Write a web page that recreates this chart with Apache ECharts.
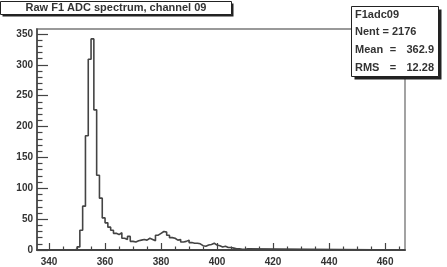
<!DOCTYPE html>
<html>
<head>
<meta charset="utf-8">
<script src="https://cdn.jsdelivr.net/npm/echarts@6/dist/echarts.min.js"></script>
<style>
html,body{margin:0;padding:0;background:#fff;}
#c{width:447px;height:267px;}
</style>
</head>
<body>
<div id="c"></div>
<script>
// ---- data ----
var titleText = 'Raw F1 ADC spectrum, channel 09';
var statsName = 'F1adc09';
var statsNent = 2176;
var statsMean = '362.9';
var statsRMS = '12.28';

var binStart = 349;   // left edge of first listed bin
var binWidth = 1;
var counts = [1,5,32,71,185,309,342,227,121,84,52,
  44,37,32,27,25,28,19,17,22,14,
  13,15,16,17,16,19,17,15,24,27,
  30,29,24,20,19,16,17,13,14,16,
  12,11,11,10,7,6,8,9,11,8,
  7,5,6,4,4,3,2,2,1,1,2];

var xMajorTicks = [340,360,380,400,420,440,460];
var xMinorTicks = [345,350,355,365,370,375,385,390,395,405,410,415,425,430,435,445,450,455,465];
var yMajorTicks = [0,50,100,150,200,250,300,350];
var yMinorTicks = [10,20,30,40,60,70,80,90,110,120,130,140,160,170,180,190,210,220,230,240,260,270,280,290,310,320,330,340];

// ---- axis ranges ----
var xMin = 335.7, xMax = 467.1, yMin = 0, yMax = 358;

// build step outline of histogram (zero outside the filled bins)
var pts = [[xMin, 0]];
for (var i = 0; i < counts.length; i++) {
  pts.push([binStart + i * binWidth, counts[i]]);
}
pts.push([binStart + counts.length * binWidth, 0]);
pts.push([xMax, 0]);

var FONT = '"Liberation Sans", Arial, Helvetica, sans-serif';
var chart = echarts.init(document.getElementById('c'), null, {renderer: 'canvas'});

function xAx(ticks, len, labels) {
  return {
    type: 'value', min: xMin, max: xMax, position: 'bottom', gridIndex: 0,
    axisLine: {show: labels, lineStyle: {color: '#444', width: 1.8}},
    axisTick: {show: true, inside: true, length: len, customValues: ticks, lineStyle: {color: '#444', width: 1.2}},
    axisLabel: {show: labels, customValues: ticks, margin: 7, color: '#333', fontFamily: FONT, fontWeight: 'bold', fontSize: 10},
    splitLine: {show: false}
  };
}
function yAx(ticks, len, labels) {
  return {
    type: 'value', min: yMin, max: yMax, position: 'left', gridIndex: 0,
    axisLine: {show: labels, lineStyle: {color: '#444', width: 1.6}},
    axisTick: {show: true, inside: true, length: len, customValues: ticks, lineStyle: {color: '#444', width: 1.2}},
    axisLabel: {show: labels, customValues: ticks, margin: 4, color: '#333', fontFamily: FONT, fontWeight: 'bold', fontSize: 10},
    splitLine: {show: false}
  };
}

var option = {
  animation: false,
  backgroundColor: '#fff',
  grid: {left: 37, top: 29, right: 42, bottom: 17, show: true, borderColor: '#999', borderWidth: 1.8, backgroundColor: '#fff'},
  xAxis: [xAx(xMajorTicks, 7, true), xAx(xMinorTicks, 3.5, false)],
  yAxis: [yAx(yMajorTicks, 11, true), yAx(yMinorTicks, 5.5, false)],
  series: [{
    type: 'line', xAxisIndex: 0, yAxisIndex: 0,
    data: pts, step: 'end', showSymbol: false, symbol: 'none',
    lineStyle: {color: '#444', width: 1.6},
    z: 3
  }],
  graphic: [
    // title box
    {type: 'rect', shape: {x: 2.5, y: 3.5, width: 231, height: 13}, style: {fill: '#222'}, z: 10},
    {type: 'rect', shape: {x: 0.5, y: 1.5, width: 231, height: 13}, style: {fill: '#fff', stroke: '#222', lineWidth: 1}, z: 11},
    {type: 'text', x: 116, y: 8, style: {text: titleText, fill: '#333', font: 'bold 11px ' + FONT, align: 'center', verticalAlign: 'middle'}, z: 12},
    // stats box
    {type: 'rect', shape: {x: 354.5, y: 9.5, width: 87, height: 70}, style: {fill: '#222'}, z: 10},
    {type: 'rect', shape: {x: 351.5, y: 6.5, width: 87, height: 70}, style: {fill: '#fff', stroke: '#222', lineWidth: 1}, z: 11},
    {type: 'text', x: 355, y: 15, style: {text: statsName, fill: '#333', font: 'bold 11px ' + FONT, verticalAlign: 'middle'}, z: 12},
    {type: 'text', x: 355, y: 32, style: {text: 'Nent = ' + statsNent, fill: '#333', font: 'bold 11px ' + FONT, verticalAlign: 'middle'}, z: 12},
    {type: 'text', x: 355, y: 50, style: {text: 'Mean', fill: '#333', font: 'bold 11px ' + FONT, verticalAlign: 'middle'}, z: 12},
    {type: 'text', x: 393, y: 50, style: {text: '=', fill: '#333', font: 'bold 11px ' + FONT, align: 'center', verticalAlign: 'middle'}, z: 12},
    {type: 'text', x: 434, y: 50, style: {text: statsMean, fill: '#333', font: 'bold 11px ' + FONT, align: 'right', verticalAlign: 'middle'}, z: 12},
    {type: 'text', x: 355, y: 68, style: {text: 'RMS', fill: '#333', font: 'bold 11px ' + FONT, verticalAlign: 'middle'}, z: 12},
    {type: 'text', x: 393, y: 68, style: {text: '=', fill: '#333', font: 'bold 11px ' + FONT, align: 'center', verticalAlign: 'middle'}, z: 12},
    {type: 'text', x: 434, y: 68, style: {text: statsRMS, fill: '#333', font: 'bold 11px ' + FONT, align: 'right', verticalAlign: 'middle'}, z: 12}
  ]
};
chart.setOption(option);
</script>
</body>
</html>
